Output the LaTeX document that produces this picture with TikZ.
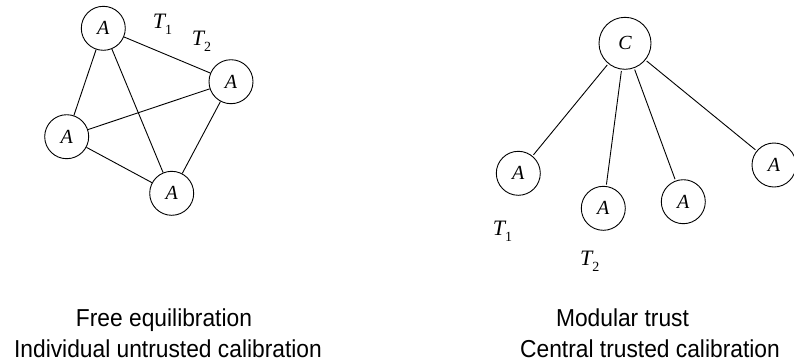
\documentclass[tikz,border=0pt]{standalone}
\usepackage{fontspec}
\setmainfont{Liberation Serif}
\newfontfamily\labfont[FakeStretch=0.93]{Liberation Sans}
\tikzset{
  agent/.style={circle, draw, line width=0.9pt, minimum size=44pt, inner sep=0pt,
    font=\fontsize{20}{24}\selectfont\itshape},
  central/.style={agent, minimum size=52pt},
  link/.style={line width=0.9pt},
  tlabel/.style={anchor=base west, inner sep=0pt, font=\fontsize{22}{26}\selectfont},
  caption/.style={anchor=base, inner sep=0pt, font=\labfont\fontsize{24.5}{28}\selectfont}
}
\newcommand{\tsub}[1]{{\itshape T}\raisebox{-6pt}{\fontsize{14}{14}\selectfont #1}}
\begin{document}
\begin{tikzpicture}[x=1pt,y=-1pt]
\useasboundingbox (0,0) rectangle (794,362);
% left graph
\node[agent] (tA) at (103.3,28.3) {A};
\node[agent] (rA) at (231,81.7) {A};
\node[agent] (lA) at (66.7,136.7) {A};
\node[agent] (bA) at (171.7,193.3) {A};
\draw[link] (tA) -- (lA);
\draw[link] (tA) -- (bA);
\draw[link] (tA) -- (rA);
\draw[link] (lA) -- (rA);
\draw[link] (lA) -- (bA);
\draw[link] (rA) -- (bA);
\node[tlabel] (lt1) at (152.7,28.3) {\tsub{1}};
\node[tlabel] (lt2) at (191.7,45) {\tsub{2}};
% right graph
\node[central] (C) at (625,43.3) {C};
\node[agent] (a1) at (518.3,173.3) {A};
\node[agent] (a2) at (603.3,208.3) {A};
\node[agent] (a3) at (683.3,201.7) {A};
\node[agent] (a4) at (774,165) {A};
\foreach \t in {a1,a2,a3,a4} \draw[link, shorten <=1.5pt, shorten >=1.5pt] (C) -- (\t);
\node[tlabel] (rt1) at (492.7,235) {\tsub{1}};
\node[tlabel] (rt2) at (580,265) {\tsub{2}};
% captions
\node[caption] (c1) at (164,326) {Free equilibration};
\node[caption] (c2) at (168,357) {Individual untrusted calibration};
\node[caption] (c3) at (622.5,326) {Modular trust};
\node[caption] (c4) at (650,357) {Central trusted calibration};
\end{tikzpicture}
\end{document}
